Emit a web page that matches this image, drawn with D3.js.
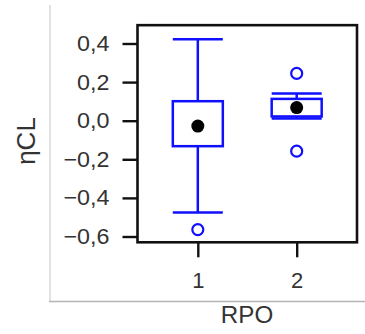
<!DOCTYPE html>
<html>
<head>
<meta charset="utf-8">
<script src="https://cdn.jsdelivr.net/npm/d3@7"></script>
<style>
  html, body { margin: 0; padding: 0; background: #fff; }
  svg { display: block; }
  text { font-family: "Liberation Sans", Arial, sans-serif; fill: #333; }
</style>
</head>
<body>
<div id="chart"></div>
<script>
// Box plot summary per RPO group
const groups = ["1", "2"];
const whiskerHigh = [0.422, 0.141];
const q3 = [0.101, 0.113];
const q1 = [-0.132, 0.022];
const whiskerLow = [-0.476, 0.012];
const means = [-0.028, 0.068];
const outliers = [[-0.564], [0.245, -0.158]];
const yTicks = [-0.6, -0.4, -0.2, 0.0, 0.2, 0.4];
const yTitle = "ηCL";
const xTitle = "RPO";

const W = 365, H = 334;
const blue = "#1010ff";

const svg = d3.select("#chart").append("svg")
  .attr("width", W).attr("height", H);

// widen a text element slightly while keeping its anchor
function widen(sel, k) {
  sel.each(function () {
    const len = this.getComputedTextLength();
    d3.select(this).attr("textLength", len * k).attr("lengthAdjust", "spacingAndGlyphs");
  });
}

// panel border lines (left and bottom)
svg.append("line").attr("x1", 50).attr("x2", 50).attr("y1", 5).attr("y2", 302)
  .attr("stroke", "#e2e2e2").attr("stroke-width", 2);
svg.append("line").attr("x1", 49).attr("x2", W).attr("y1", 301.5).attr("y2", 301.5)
  .attr("stroke", "#b4b4b4").attr("stroke-width", 1.5);

const y = d3.scaleLinear().domain([-0.6, 0.4]).range([236.5, 43.5]);
const x = d3.scalePoint().domain(groups).range([137.5, 357]).padding(0.61);

const frameTop = y(0.495), frameBottom = y(-0.63);
const frameLeft = 137.5, frameRight = 357;

const loc = d3.formatLocale({ decimal: ",", thousands: ".", grouping: [3], currency: ["", ""], minus: "\u2212" });
const fmt = loc.format(".1f");

// y axis
const yAxis = svg.append("g")
  .attr("transform", `translate(${frameLeft},0)`)
  .call(d3.axisLeft(y).tickValues(yTicks).tickFormat(fmt).tickSize(15).tickPadding(13));
yAxis.select(".domain").remove();
yAxis.selectAll(".tick line").attr("stroke", "#111").attr("stroke-width", 2.4);
yAxis.selectAll(".tick text").style("font-size", "22px").attr("fill", "#3a3a3a")
  .style("font-family", "'Liberation Sans', Arial, sans-serif");
widen(yAxis.selectAll(".tick text"), 1.06);

// x axis
const xAxis = svg.append("g")
  .attr("transform", `translate(0,${frameBottom})`)
  .call(d3.axisBottom(x).tickSize(15).tickPadding(15));
xAxis.select(".domain").remove();
xAxis.selectAll(".tick line").attr("stroke", "#111").attr("stroke-width", 2.4);
xAxis.selectAll(".tick text").style("font-size", "22px").attr("fill", "#3a3a3a")
  .style("font-family", "'Liberation Sans', Arial, sans-serif");

// plot frame
svg.append("rect")
  .attr("x", frameLeft).attr("y", frameTop)
  .attr("width", frameRight - frameLeft).attr("height", frameBottom - frameTop)
  .attr("fill", "none").attr("stroke", "#111").attr("stroke-width", 2.6);

const boxW = 50;
const sw = 2.5;
const g = svg.append("g");
groups.forEach((k, i) => {
  const cx = x(k);
  // whisker stems
  g.append("line").attr("x1", cx).attr("x2", cx)
    .attr("y1", y(whiskerHigh[i])).attr("y2", y(q3[i]))
    .attr("stroke", blue).attr("stroke-width", sw);
  g.append("line").attr("x1", cx).attr("x2", cx)
    .attr("y1", y(q1[i])).attr("y2", y(whiskerLow[i]))
    .attr("stroke", blue).attr("stroke-width", sw);
  // whisker caps
  [whiskerHigh[i], whiskerLow[i]].forEach(v => {
    g.append("line").attr("x1", cx - boxW / 2).attr("x2", cx + boxW / 2)
      .attr("y1", y(v)).attr("y2", y(v))
      .attr("stroke", blue).attr("stroke-width", sw);
  });
  // box
  g.append("rect")
    .attr("x", cx - boxW / 2).attr("width", boxW)
    .attr("y", y(q3[i])).attr("height", y(q1[i]) - y(q3[i]))
    .attr("fill", "none").attr("stroke", blue).attr("stroke-width", sw);
  // outliers
  outliers[i].forEach(v => {
    g.append("circle").attr("cx", cx).attr("cy", y(v)).attr("r", 5.5)
      .attr("fill", "none").attr("stroke", blue).attr("stroke-width", 2.2);
  });
  // mean
  g.append("circle").attr("cx", cx).attr("cy", y(means[i])).attr("r", 6.5)
    .attr("fill", "#000");
});

// axis titles
svg.append("text")
  .attr("transform", "translate(35,141) rotate(-90)")
  .attr("text-anchor", "middle")
  .style("font-size", "26px").attr("fill", "#2a2a2a")
  .text(yTitle);
const xt = svg.append("text")
  .attr("x", 247).attr("y", 323)
  .attr("text-anchor", "middle")
  .style("font-size", "23px").attr("fill", "#2a2a2a")
  .text(xTitle);
widen(xt, 1.05);
</script>
</body>
</html>
